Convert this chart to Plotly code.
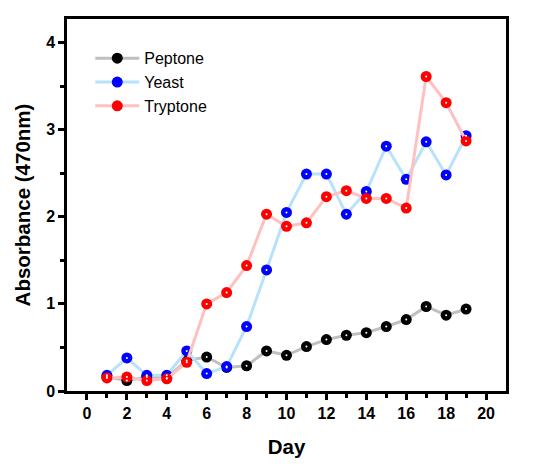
import plotly.graph_objects as go

days = list(range(1, 20))
peptone = [0.16, 0.12, 0.16, 0.15, 0.35, 0.39, 0.27, 0.29, 0.46, 0.41, 0.51, 0.59, 0.64, 0.67, 0.74, 0.82, 0.97, 0.87, 0.94]
yeast = [0.18, 0.38, 0.18, 0.18, 0.46, 0.20, 0.28, 0.74, 1.39, 2.05, 2.49, 2.49, 2.03, 2.29, 2.81, 2.43, 2.86, 2.48, 2.93]
tryptone = [0.15, 0.16, 0.12, 0.14, 0.33, 1.00, 1.13, 1.44, 2.03, 1.89, 1.93, 2.23, 2.30, 2.21, 2.21, 2.10, 3.61, 3.31, 2.87]

series = [
    ("Peptone", peptone, "#bfbfbf", "#000000"),
    ("Yeast", yeast, "#b8e2fb", "#0000ff"),
    ("Tryptone", tryptone, "#ffc0c0", "#ff0000"),
]

fig = go.Figure()
for name, vals, lc, mc in series:
    fig.add_trace(go.Scatter(
        x=days, y=vals, name=name, mode="lines+markers",
        line=dict(color=lc, width=3),
        marker=dict(color=mc, size=11, line=dict(width=0)),
    ))
for name, vals, lc, mc in series:
    fig.add_trace(go.Scatter(
        x=days, y=vals, mode="markers", showlegend=False, hoverinfo="skip",
        marker=dict(color="white", size=2, line=dict(width=0)),
    ))

axis_common = dict(
    showline=True, linecolor="black", linewidth=2.5, mirror=True,
    ticks="outside", tickcolor="black", tickwidth=2.5, ticklen=6,
    showgrid=False, zeroline=False, automargin=False,
    tickfont=dict(family="Arial, Liberation Sans", size=16, color="black", weight="bold"),
    title_font=dict(family="Arial, Liberation Sans", size=20.5, color="black", weight="bold"),
)

fig.update_xaxes(
    range=[-1, 21], tickvals=list(range(0, 21, 2)),
    minor=dict(tickvals=list(range(1, 21, 2)), ticks="outside", ticklen=4, tickwidth=2.5, tickcolor="black"),
    title_text="Day", title_standoff=19, **axis_common,
)
fig.update_yaxes(
    range=[0, 4.27], tickvals=[0, 1, 2, 3, 4],
    minor=dict(tickvals=[0.5, 1.5, 2.5, 3.5], ticks="outside", ticklen=4, tickwidth=2.5, tickcolor="black"),
    title_text="Absorbance (470nm)", title_standoff=10, **axis_common,
)

fig.update_layout(
    width=539, height=471,
    margin=dict(l=59, r=41, t=11, b=88),
    plot_bgcolor="white", paper_bgcolor="white",
    legend=dict(x=0.053, y=0.94, xanchor="left", yanchor="top",
                bgcolor="rgba(0,0,0,0)", font=dict(family="Arial, Liberation Sans", size=16, color="black"),
                itemwidth=44, tracegroupgap=0),
    showlegend=True,
)

fig.write_html("out.html")
